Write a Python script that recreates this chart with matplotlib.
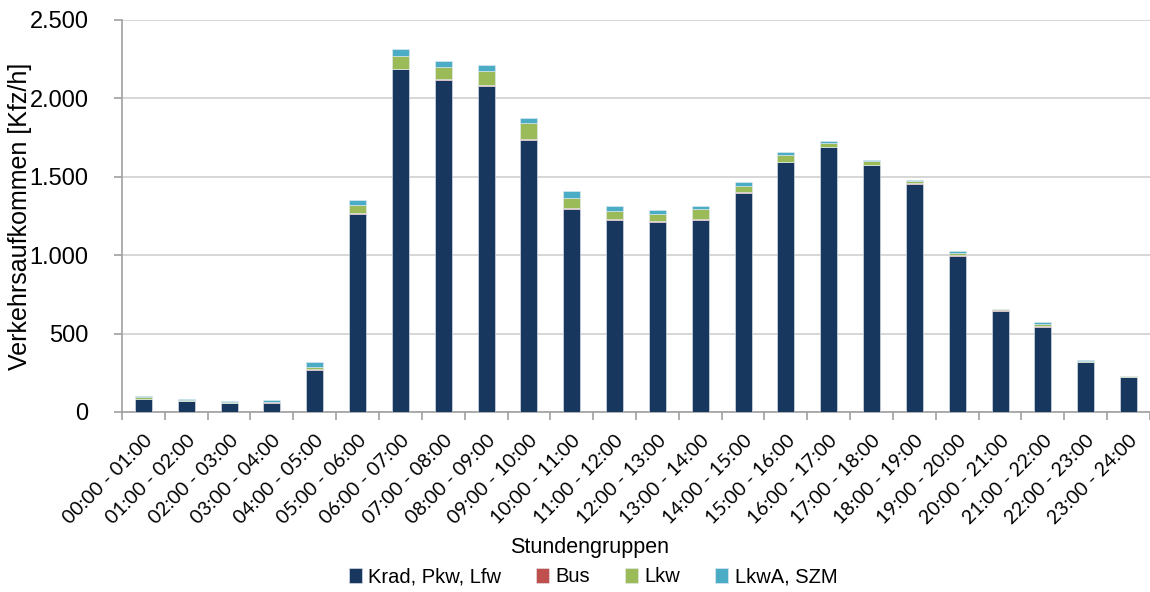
import numpy as np
import matplotlib

matplotlib.use("Agg")
import matplotlib.pyplot as plt

hours = [f"{h:02d}:00 - {h + 1:02d}:00" for h in range(24)]

krad_pkw_lfw = [83, 70, 55, 60, 270, 1265, 2185, 2120, 2080, 1733, 1295, 1227,
                1212, 1227, 1397, 1593, 1690, 1575, 1455, 997, 645, 540, 320, 222]
bus = [1, 1, 1, 1, 2, 3, 5, 5, 5, 5, 4, 5, 4, 5, 3, 3, 3, 3, 4, 5, 5, 10, 2, 1]
lkw = [10, 8, 7, 5, 15, 52, 78, 77, 90, 105, 64, 50, 49, 60, 42, 43, 20, 20,
       12, 15, 4, 14, 5, 4]
lkwa_szm = [6, 4, 6, 12, 33, 30, 47, 38, 38, 32, 45, 32, 25, 23, 28, 19, 15, 12,
            9, 8, 3, 12, 4, 3]

series = [
    ("Krad, Pkw, Lfw", krad_pkw_lfw, "#17375e"),
    ("Bus", bus, "#c0504d"),
    ("Lkw", lkw, "#9bbb59"),
    ("LkwA, SZM", lkwa_szm, "#4bacc6"),
]

fig = plt.figure(figsize=(11.5, 5.92), dpi=100)
ax = fig.add_axes([122 / 1150, 1 - 412 / 592, 1028 / 1150, 392 / 592])

x = np.arange(len(hours))
bottom = np.zeros(len(hours))
for name, vals, color in series:
    vals = np.array(vals, dtype=float)
    ax.bar(x, vals, width=0.4, bottom=bottom, color=color, label=name,
           edgecolor="#e6ebf2", linewidth=0.4, zorder=3)
    bottom += vals

ax.set_xlim(-0.5, len(hours) - 0.5)
ax.set_ylim(0, 2500)
ax.set_yticks(np.arange(0, 2501, 500))
ax.set_yticklabels([f"{v:,}".replace(",", ".") for v in range(0, 2501, 500)],
                   family="Liberation Sans", fontsize=17)
ax.yaxis.grid(True, color="#d0d0d0", linewidth=1.2, zorder=0)

# Excel-style: ticks on category boundaries, labels centred under the bars
ax.set_xticks(np.arange(-0.5, len(hours)), minor=False)
ax.set_xticklabels([])
ax.set_xticks(x, minor=True)
ax.set_xticklabels(hours, minor=True, rotation=45, ha="right", va="top",
                   rotation_mode="anchor", family="Lato", fontsize=14)
ax.tick_params(axis="x", which="minor", length=0, pad=14)
ax.tick_params(axis="x", which="major", length=6, color="#a0a0a0", width=1.2)
ax.tick_params(axis="y", length=6, color="#a0a0a0", width=1.2, pad=18)

for side in ("top", "right"):
    ax.spines[side].set_visible(False)
for side in ("left", "bottom"):
    ax.spines[side].set_color("#a0a0a0")
    ax.spines[side].set_linewidth(1.2)

ax.set_ylabel("Verkehrsaufkommen [Kfz/h]", family="Liberation Sans", fontsize=18)
ax.yaxis.set_label_coords(-90 / 1028, 0.5)
fig.text(590 / 1150, 1 - 548 / 592, "Stundengruppen", ha="center", va="center",
         family="Liberation Sans", fontsize=15.5)

fig.legend(loc="center", bbox_to_anchor=(593 / 1150, 1 - 577 / 592), ncol=4,
           frameon=False, prop={"family": "Liberation Sans", "size": 14.5},
           handlelength=0.65, handleheight=0.75, handletextpad=0.3,
           columnspacing=1.75, borderpad=0)

fig.savefig("out.png", dpi=100)
